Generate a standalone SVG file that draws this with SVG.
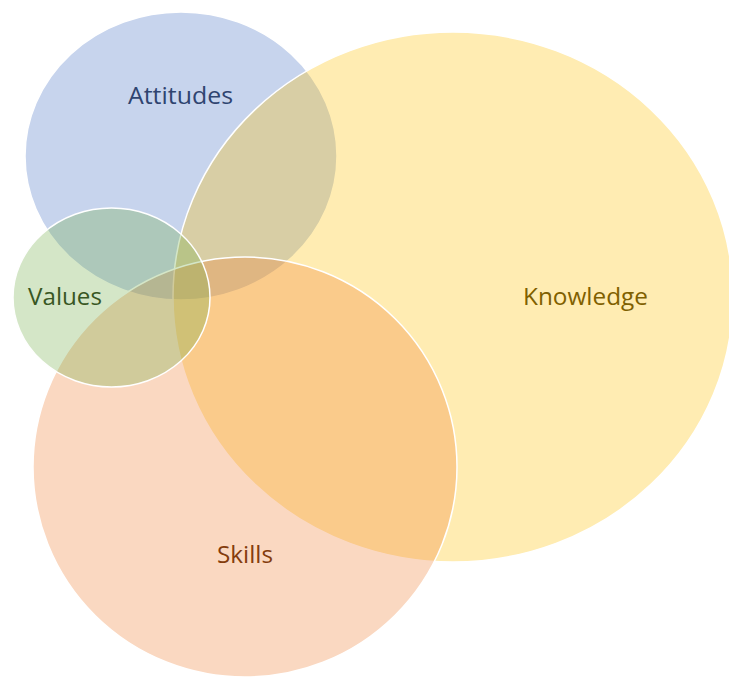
<svg xmlns="http://www.w3.org/2000/svg" width="729" height="677" viewBox="0 0 729 677">
<style>
.c{stroke:#ffffff;stroke-width:1.5;fill-opacity:0.3}
.t{font-family:"Open Sans","Liberation Sans",sans-serif;font-size:24px;text-anchor:middle}
</style>
<rect width="729" height="677" fill="#ffffff"/>
<g id="attitudes">
<ellipse class="c" cx="181" cy="156" rx="156" ry="144" fill="#4472C4"/>
</g>
<g id="knowledge">
<ellipse class="c" cx="453" cy="297" rx="280" ry="265" fill="#FFC000"/>
</g>
<g id="skills">
<ellipse class="c" cx="245" cy="467" rx="212" ry="210" fill="#ED7D31"/>
</g>
<g id="values">
<ellipse class="c" cx="111.5" cy="297.5" rx="98.5" ry="89.5" fill="#70AD47"/>
</g>
<g id="labels">
<text class="t" x="180.5" y="104" fill="#2F4470" textLength="105" lengthAdjust="spacingAndGlyphs">Attitudes</text>
<text class="t" x="585.5" y="305" fill="#7F6000" textLength="125" lengthAdjust="spacingAndGlyphs">Knowledge</text>
<text class="t" x="65" y="305" fill="#385723" textLength="74" lengthAdjust="spacingAndGlyphs">Values</text>
<text class="t" x="245" y="563" fill="#843C0C" textLength="56" lengthAdjust="spacingAndGlyphs">Skills</text>
</g>
<g id="connectors"/>
</svg>
